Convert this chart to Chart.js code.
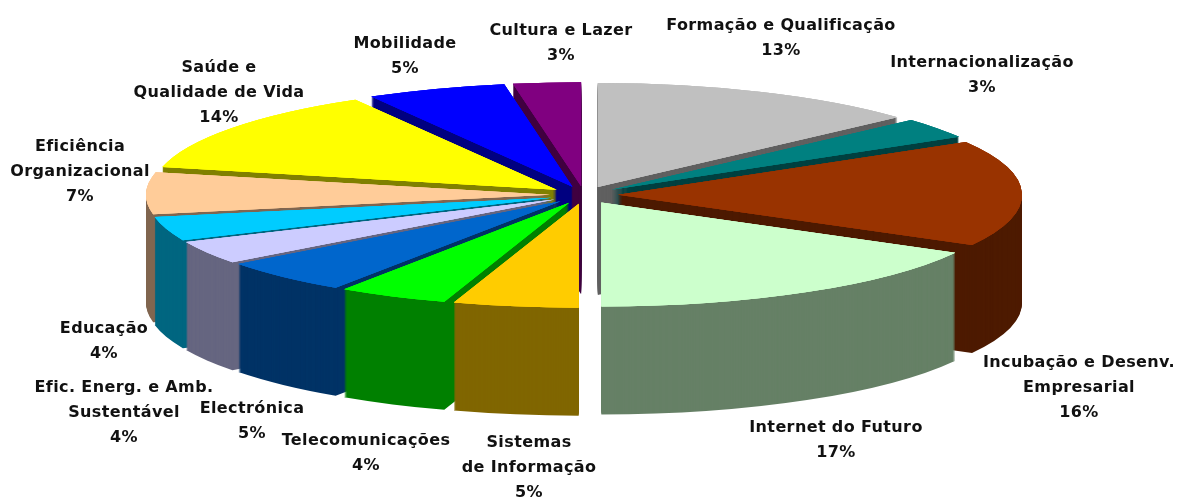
<!DOCTYPE html>
<html>
<head>
<meta charset="utf-8">
<title>Pie</title>
<script src="https://cdn.jsdelivr.net/npm/chart.js@4"></script>
<style>
  html, body { margin: 0; padding: 0; background: #fff; }
  canvas { display: block; }
</style>
</head>
<body>
<canvas id="myChart" width="1179" height="497"></canvas>
<script>
var categories = [
  "Formação e Qualificação", "Internacionalização", "Incubação e Desenv. Empresarial",
  "Internet do Futuro", "Sistemas de Informação", "Telecomunicações", "Electrónica",
  "Efic. Energ. e Amb. Sustentável", "Educação", "Eficiência Organizacional",
  "Saúde e Qualidade de Vida", "Mobilidade", "Cultura e Lazer"
];
var shares = [13.3, 3.2, 16.5, 17.0, 5.0, 4.4, 5.3, 3.6, 3.7, 6.5, 13.2, 5.6, 2.7];
var percentLabels = ["13%", "3%", "16%", "17%", "5%", "4%", "5%", "4%", "4%", "7%", "14%", "5%", "3%"];
var topColors = [
  "#c0c0c0", "#008080", "#993300", "#ccffcc", "#ffcc00", "#00ff00", "#0066cc",
  "#ccccff", "#00ccff", "#ffcc99", "#ffff00", "#0000ff", "#800080"
];
var sideColors = [
  "#606060", "#004040", "#4d1a00", "#668066", "#806600", "#008000", "#003366",
  "#666680", "#006680", "#806650", "#808000", "#000080", "#400040"
];

// how the category names wrap on the picture
var labelLines = [
  ["Formação e Qualificação"], ["Internacionalização"], ["Incubação e Desenv.", "Empresarial"],
  ["Internet do Futuro"], ["Sistemas", "de Informação"], ["Telecomunicações"], ["Electrónica"],
  ["Efic. Energ. e Amb.", "Sustentável"], ["Educação"], ["Eficiência", "Organizacional"],
  ["Saúde e", "Qualidade de Vida"], ["Mobilidade"], ["Cultura e Lazer"]
];
// centre x and first line y of each label
var labelAnchors = [
  [781, 26], [982, 63], [1079, 363], [836, 428], [529, 443], [366, 441], [252, 409],
  [124, 388], [104, 329], [80, 147], [219, 68], [405, 44], [561, 31]
];

// the flat pie is squashed and extruded to look like the 3D original
var pieView = { cx: 584, cy: 195, rx: 404, ry: 104, depth: 108, explode: 34 };

function drawSlice(ctx, arc, color, drop) {
  var mid = (arc.startAngle + arc.endAngle) / 2;
  var sx = pieView.rx / arc.outerRadius;
  var sy = pieView.ry / arc.outerRadius;
  var saved = arc.options;
  arc.options = Object.create(saved, { backgroundColor: { value: color } });
  ctx.save();
  ctx.translate(pieView.cx + Math.cos(mid) * pieView.explode,
    pieView.cy + Math.sin(mid) * pieView.explode * sy / sx + drop);
  ctx.scale(sx, sy);
  ctx.translate(-arc.x, -arc.y);
  arc.draw(ctx);
  ctx.restore();
  arc.options = saved;
}

var pie3d = {
  id: 'pie3d',
  beforeDatasetsDraw: function(chart) {
    var ctx = chart.ctx;
    var arcs = chart.getDatasetMeta(0).data.map(function(arc, i) {
      return { arc: arc, index: i, mid: (arc.startAngle + arc.endAngle) / 2 };
    });
    // back to front
    arcs.sort(function(a, b) { return Math.sin(a.mid) - Math.sin(b.mid); });
    arcs.forEach(function(item) {
      for (var d = pieView.depth; d > 0; d--) {
        drawSlice(ctx, item.arc, sideColors[item.index], d);
      }
      // repeated so the stacked side does not leave a dark fringe on the top's edge
      for (var n = 0; n < 3; n++) {
        drawSlice(ctx, item.arc, topColors[item.index], 0);
      }
    });
    return false;
  },
  afterDraw: function(chart) {
    var ctx = chart.ctx;
    ctx.save();
    ctx.font = 'bold 16px "DejaVu Sans"';
    ctx.letterSpacing = '0.38px';
    ctx.fillStyle = '#111';
    ctx.textAlign = 'center';
    ctx.textBaseline = 'middle';
    labelLines.forEach(function(lines, i) {
      var x = labelAnchors[i][0];
      var y = labelAnchors[i][1];
      lines.concat(percentLabels[i]).forEach(function(line, n) {
        ctx.fillText(line, x, y + n * 25);
      });
    });
    ctx.restore();
  }
};

var myPie = new Chart(document.getElementById('myChart').getContext('2d'), {
  type: 'pie',
  data: {
    labels: categories,
    datasets: [{
      data: shares,
      backgroundColor: topColors,
      borderWidth: 0
    }]
  },
  options: {
    responsive: false,
    animation: false,
    plugins: {
      legend: { display: false },
      tooltip: { enabled: false }
    }
  },
  plugins: [pie3d]
});
</script>
</body>
</html>
